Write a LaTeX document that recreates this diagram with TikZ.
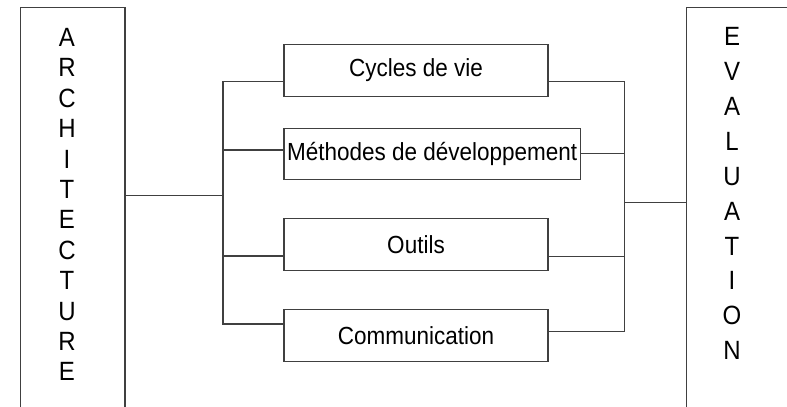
\documentclass[tikz,border=0pt]{standalone}
\usepackage{fontspec}
\setmainfont{Liberation Sans}
\usepackage{graphicx}
\newcommand\vstr[1]{\scalebox{1}[1.1]{#1}}
\begin{document}
\begin{tikzpicture}[x=1bp,y=-1bp,
  conn/.style={draw=black!75,line width=1.3bp},
  box/.style={conn, rectangle, inner sep=0pt, font=\fontsize{22.5bp}{27bp}\selectfont},
  sidebox/.style={conn, rectangle, inner sep=0pt, anchor=north west},
  letters/.style={inner sep=0pt, anchor=north, align=center}]
\useasboundingbox (0,0) rectangle (787,406);
\clip (0,0) rectangle (787,406);
% side boxes (open at the bottom / right edge of the picture)
\node[sidebox, minimum width=104.6bp, minimum height=430bp] (arch) at (19.7,6.7) {};
\node[sidebox, minimum width=150bp, minimum height=430bp] (eval) at (686,6.7) {};
\node[letters, font=\fontsize{24bp}{30.4bp}\selectfont] (archtxt) at (67,28.2)
  {\vstr{A}\\\vstr{R}\\\vstr{C}\\\vstr{H}\\\vstr{I}\\\vstr{T}\\\vstr{E}\\\vstr{C}\\\vstr{T}\\\vstr{U}\\\vstr{R}\\\vstr{E}};
\node[letters, font=\fontsize{24bp}{34.9bp}\selectfont] (evaltxt) at (732,27.3)
  {\vstr{E}\\\vstr{V}\\\vstr{A}\\\vstr{L}\\\vstr{U}\\\vstr{A}\\\vstr{T}\\\vstr{I}\\\vstr{O}\\\vstr{N}};
% middle boxes
\node[box, minimum width=264bp, minimum height=51.6bp] (b1) at (416,70.5) {\vstr{Cycles de vie}};
\node[box, minimum width=296.3bp, minimum height=51bp] (b2) at (432.2,153.8) {\vstr{Méthodes de développement}};
\node[box, minimum width=264bp, minimum height=52.4bp] (b3) at (416,244.5) {\vstr{Outils}};
\node[box, minimum width=264bp, minimum height=52.4bp] (b4) at (416,335.5) {\vstr{Communication}};
% junction coordinates
\coordinate (lj) at (223,195.5);
\coordinate (l1) at (223,81.7);
\coordinate (l2) at (223,150);
\coordinate (l3) at (223,256);
\coordinate (l4) at (223,324);
\coordinate (rj) at (624.3,202.3);
\coordinate (r1) at (624.3,81.7);
\coordinate (r2) at (624.3,153.7);
\coordinate (r3) at (624.3,256.3);
\coordinate (r4) at (624.3,331.7);
% connectors
\draw[conn] (lj -| arch.east) -- (lj);
\draw[conn] (l1 -| b1.west) -- (l1) -- (l4) -- (l4 -| b4.west);
\draw[conn] (l2) -- (l2 -| b2.west);
\draw[conn] (l3) -- (l3 -| b3.west);
\draw[conn] (r1 -| b1.east) -- (r1) -- (r4) -- (r4 -| b4.east);
\draw[conn] (r2) -- (r2 -| b2.east);
\draw[conn] (r3) -- (r3 -| b3.east);
\draw[conn] (rj) -- (rj -| eval.west);
\end{tikzpicture}
\end{document}
